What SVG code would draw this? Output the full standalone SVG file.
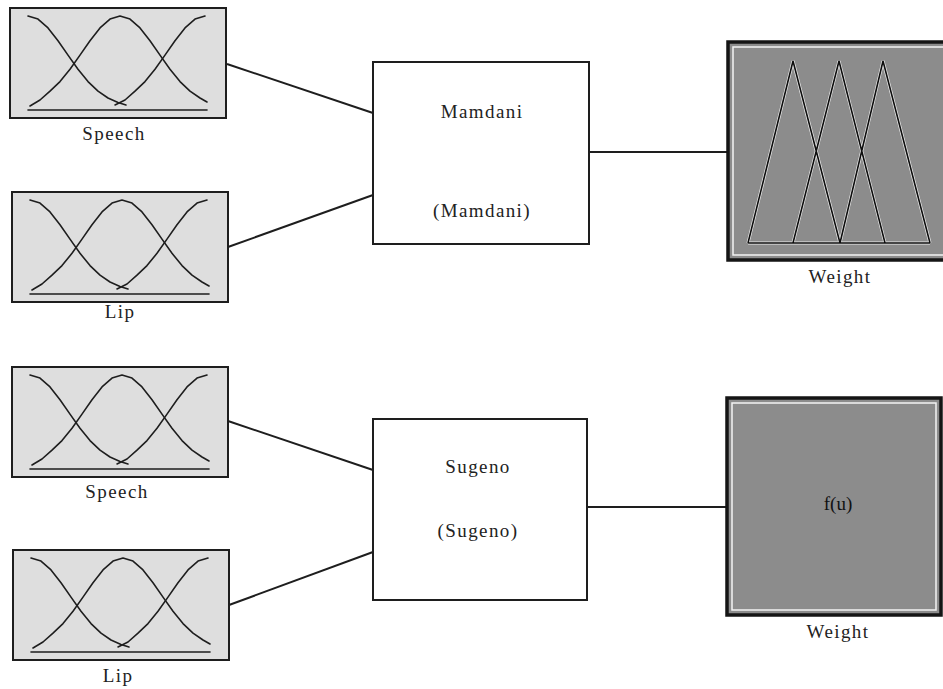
<svg xmlns="http://www.w3.org/2000/svg" xmlns:xlink="http://www.w3.org/1999/xlink" width="943" height="689" viewBox="0 0 943 689">
  <style>
    .label { font-family: "Liberation Serif", "Times New Roman", serif; font-size: 19px; fill: #222; text-anchor: middle; letter-spacing: 1.4px; }
    .mf-box { fill: #dedede; stroke: #1e1e1e; stroke-width: 2; }
    .mf-curve { fill: none; stroke: #1e1e1e; stroke-width: 1.6; stroke-linejoin: round; stroke-linecap: round; }
    .fis-box { fill: #ffffff; stroke: #1e1e1e; stroke-width: 2; }
    .out-box { fill: #8c8c8c; stroke: #151515; stroke-width: 3.5; }
    .out-inner { fill: none; stroke: #f4f4f4; stroke-width: 1.5; }
    .tri-halo { fill: none; stroke: #eeeeee; stroke-width: 3; stroke-linejoin: miter; }
    .tri { fill: none; stroke: #0e0e0e; stroke-width: 1.6; stroke-linejoin: miter; }
    .wire { fill: none; stroke: #1e1e1e; stroke-width: 2; }
  </style>
  <defs>
    <!-- input variable panel: three gaussian membership functions -->
    <symbol id="mf-panel" overflow="visible">
      <rect class="mf-box" x="0" y="0" width="216" height="110"/>
      <polyline class="mf-curve" points="18,8 28,11.1 38,19.9 48,32.7 58,47.1 68,61.3 78,73.6 88,83.2 98,90 108,94.4 116,97"/>
      <polyline class="mf-curve" points="20,98 30,92 40,83.2 50,73.6 60,61.3 70,47.1 80,32.7 90,19.9 100,11.1 110,8 120,11.1 130,19.9 140,32.7 150,47.1 160,61.3 170,73.6 180,83.2 190,90 197,94"/>
      <polyline class="mf-curve" points="105,97 115,92 125,83.2 135,73.6 145,61.3 155,47.1 165,32.7 175,19.9 185,11.1 195,8"/>
      <line class="mf-curve" x1="18" y1="102" x2="197" y2="102"/>
    </symbol>
  </defs>

  <!-- connectors -->
  <g id="connectors">
    <line class="wire" x1="227" y1="64" x2="373" y2="113"/>
    <line class="wire" x1="228" y1="247" x2="373" y2="195"/>
    <line class="wire" x1="589" y1="152" x2="728" y2="152"/>
    <line class="wire" x1="228" y1="421" x2="373" y2="470"/>
    <line class="wire" x1="229" y1="605" x2="373" y2="552"/>
    <line class="wire" x1="587" y1="507" x2="727" y2="507"/>
  </g>

  <!-- Mamdani system inputs -->
  <g id="speech-1">
    <use xlink:href="#mf-panel" x="10" y="8"/>
    <text class="label" x="114" y="140">Speech</text>
  </g>
  <g id="lip-1">
    <use xlink:href="#mf-panel" x="12" y="192"/>
    <text class="label" x="120" y="318">Lip</text>
  </g>

  <!-- Mamdani inference block -->
  <g id="mamdani">
    <rect class="fis-box" x="373" y="62" width="216" height="182"/>
    <text class="label" x="482" y="118">Mamdani</text>
    <text class="label" x="482" y="217">(Mamdani)</text>
  </g>

  <!-- Mamdani output: triangular membership functions -->
  <g id="weight-1">
    <rect class="out-box" x="728" y="42" width="230" height="218"/>
    <rect class="out-inner" x="733" y="47" width="230" height="208"/>
    <path class="tri-halo" d="M748,243 L793,61 L840,243 M793,243 L839,61 L885,243 M840,243 L883,61 L930,243 M748,243 L930,243"/>
    <path class="tri" d="M748,243 L793,61 L840,243 M793,243 L839,61 L885,243 M840,243 L883,61 L930,243 M748,243 L930,243"/>
    <text class="label" x="840" y="283">Weight</text>
  </g>

  <!-- Sugeno system inputs -->
  <g id="speech-2">
    <use xlink:href="#mf-panel" x="12" y="367"/>
    <text class="label" x="117" y="498">Speech</text>
  </g>
  <g id="lip-2">
    <use xlink:href="#mf-panel" x="13" y="550"/>
    <text class="label" x="118" y="682">Lip</text>
  </g>

  <!-- Sugeno inference block -->
  <g id="sugeno">
    <rect class="fis-box" x="373" y="419" width="214" height="181"/>
    <text class="label" x="478" y="473">Sugeno</text>
    <text class="label" x="478" y="537">(Sugeno)</text>
  </g>

  <!-- Sugeno output: function of inputs -->
  <g id="weight-2">
    <rect class="out-box" x="727" y="398" width="214" height="217"/>
    <rect class="out-inner" x="732" y="403" width="204" height="207"/>
    <text class="label" x="838" y="510" style="fill:#111; letter-spacing:0">f(u)</text>
    <text class="label" x="838" y="638">Weight</text>
  </g>
</svg>
